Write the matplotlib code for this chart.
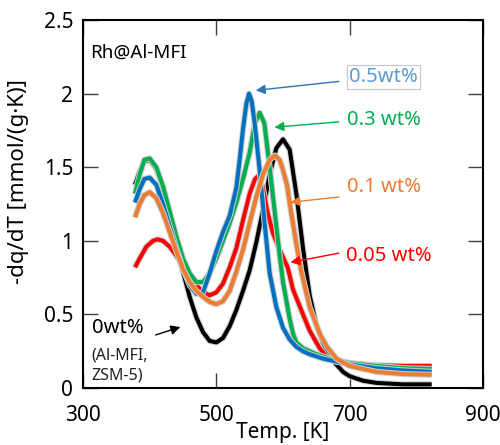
import matplotlib.pyplot as plt
import matplotlib.patheffects as pe

plt.rcParams['font.family'] = ['Noto Sans', 'DejaVu Sans']

# ---- data ----
t_black = [378, 385, 392, 400, 410, 420, 430, 440, 450, 460, 470, 480, 490, 500, 510, 520, 530, 540, 550,
           560, 570, 580, 590, 600, 610, 620, 630, 640, 650, 660, 670, 680, 690, 700, 720, 740, 760, 780, 800, 823]
q_black = [1.38, 1.47, 1.54, 1.55, 1.49, 1.36, 1.18, 0.98, 0.79, 0.62, 0.48, 0.38, 0.32, 0.31, 0.34, 0.42, 0.53,
           0.66, 0.80, 0.99, 1.21, 1.45, 1.63, 1.69, 1.62, 1.32, 0.95, 0.63, 0.43, 0.31, 0.22, 0.16, 0.11, 0.08,
           0.05, 0.035, 0.03, 0.025, 0.025, 0.025]

t_blue = [378, 385, 392, 400, 410, 420, 430, 440, 450, 460, 470, 480, 490, 500, 510, 520, 530, 535, 540, 545,
          549, 553, 558, 565, 572, 580, 590, 600, 610, 620, 630, 640, 650, 660, 680, 700, 740, 780, 823]
q_blue = [1.26, 1.35, 1.42, 1.43, 1.38, 1.25, 1.10, 0.95, 0.81, 0.70, 0.64, 0.65, 0.78, 0.93, 1.06, 1.17, 1.36,
          1.55, 1.76, 1.93, 2.00, 1.95, 1.78, 1.48, 1.14, 0.78, 0.55, 0.41, 0.33, 0.28, 0.25, 0.23, 0.215, 0.20,
          0.18, 0.16, 0.135, 0.12, 0.11]

t_green = [378, 385, 392, 400, 410, 420, 430, 440, 450, 460, 470, 480, 490, 500, 510, 520, 530, 540, 550, 558,
           565, 572, 580, 590, 595, 600, 610, 615, 620, 630, 650, 670, 700, 740, 780, 823]
q_green = [1.32, 1.45, 1.55, 1.56, 1.50, 1.37, 1.20, 1.03, 0.88, 0.78, 0.72, 0.72, 0.78, 0.88, 1.00, 1.12, 1.26,
           1.42, 1.60, 1.80, 1.87, 1.80, 1.50, 1.10, 0.90, 0.72, 0.47, 0.37, 0.31, 0.27, 0.23, 0.20, 0.17, 0.15,
           0.135, 0.13]

t_red = [378, 385, 395, 405, 412, 420, 430, 440, 450, 460, 470, 480, 490, 500, 510, 520, 530, 540, 550, 558,
         563, 570, 576, 585, 595, 607, 615, 630, 640, 655, 666, 680, 700, 740, 780, 823]
q_red = [0.82, 0.88, 0.96, 1.00, 1.01, 1.00, 0.96, 0.90, 0.83, 0.76, 0.70, 0.65, 0.63, 0.65, 0.71, 0.82, 0.95,
         1.14, 1.32, 1.42, 1.44, 1.36, 1.21, 1.05, 0.94, 0.82, 0.67, 0.50, 0.39, 0.27, 0.21, 0.18, 0.165, 0.155,
         0.15, 0.15]

t_orange = [378, 385, 392, 400, 410, 420, 430, 440, 450, 460, 470, 480, 490, 500, 510, 520, 530, 540, 550, 560,
            570, 580, 588, 595, 600, 606, 612, 620, 627, 640, 655, 666, 680, 700, 740, 780, 823]
q_orange = [1.16, 1.25, 1.31, 1.33, 1.29, 1.19, 1.06, 0.93, 0.81, 0.72, 0.66, 0.62, 0.585, 0.57, 0.59, 0.66, 0.79,
            0.94, 1.12, 1.30, 1.45, 1.55, 1.58, 1.55, 1.48, 1.38, 1.20, 0.98, 0.80, 0.55, 0.37, 0.28, 0.20, 0.15,
            0.11, 0.095, 0.09]

fig = plt.figure(figsize=(5, 4.45), dpi=100)
ax = fig.add_axes([0.166, 0.128, 0.800, 0.827])

# thin light-grey outline around every curve
halo = [pe.Stroke(linewidth=4.4, foreground='#cccccc'), pe.Normal()]
series = [
    (t_black, q_black, 'black'),
    (t_red, q_red, '#ff0000'),
    (t_green, q_green, '#00b050'),
    (t_blue, q_blue, '#0070c0'),
    (t_orange, q_orange, '#ed7d31'),
]
for t, q, c in series:
    ax.plot(t, q, color=c, lw=2.9, solid_joinstyle='round', solid_capstyle='butt', path_effects=halo)

ax.set_xlim(300, 900)
ax.set_ylim(0, 2.5)
ax.set_xticks([300, 500, 700, 900])
ax.set_yticks([0, 0.5, 1, 1.5, 2, 2.5])
ax.set_yticklabels(['0', '0.5', '1', '1.5', '2', '2.5'])
ax.tick_params(direction='in', length=11, width=1, color='#404040', top=True, right=True, labelsize=15)
ax.tick_params(axis='x', pad=12)
ax.tick_params(axis='y', pad=7)
for s in ax.spines.values():
    s.set_linewidth(1.5)

ax.set_xlabel('Temp. [K]', fontsize=15, labelpad=-3)
ax.set_ylabel('-dq/dT [mmol/(g·K)]', fontsize=16, labelpad=4)
ax.yaxis.set_label_coords(-0.135, 0.56)

ax.text(310, 2.28, 'Rh@Al-MFI', fontsize=13.5, va='center', ha='left')

# labels with arrows
ax.text(751, 2.11, '0.5wt%', color='#5b9bd5', fontsize=14.5, ha='center', va='center',
        bbox=dict(facecolor='white', edgecolor='#c8c8c8', lw=0.8, pad=1.5))
ax.annotate('', xy=(555, 2.02), xytext=(688, 2.085),
            arrowprops=dict(arrowstyle='-|>', color='#2e75b6', lw=1, mutation_scale=14))
ax.text(751, 1.82, '0.3 wt%', color='#00b050', fontsize=14.5, ha='center', va='center')
ax.annotate('', xy=(583, 1.77), xytext=(688, 1.81),
            arrowprops=dict(arrowstyle='-|>', color='#00b050', lw=1, mutation_scale=14))
ax.text(751, 1.365, '0.1 wt%', color='#ed7d31', fontsize=14.5, ha='center', va='center')
ax.annotate('', xy=(607, 1.26), xytext=(688, 1.30),
            arrowprops=dict(arrowstyle='-|>', color='#ed7d31', lw=1, mutation_scale=14))
ax.text(759, 0.90, '0.05 wt%', color='#ff0000', fontsize=14.5, ha='center', va='center')
ax.annotate('', xy=(607, 0.85), xytext=(688, 0.92),
            arrowprops=dict(arrowstyle='-|>', color='#ff0000', lw=1, mutation_scale=14))

ax.text(313, 0.41, '0wt%', fontsize=14.5, ha='left', va='center')
ax.text(313, 0.22, '(Al-MFI,', fontsize=11.5, ha='left', va='center', color='#222222')
ax.text(313, 0.085, 'ZSM-5)', fontsize=11.5, ha='left', va='center', color='#222222')
ax.annotate('', xy=(450, 0.42), xytext=(405, 0.355),
            arrowprops=dict(arrowstyle='-|>', color='black', lw=1, mutation_scale=14))

fig.savefig('out.png', dpi=100)
